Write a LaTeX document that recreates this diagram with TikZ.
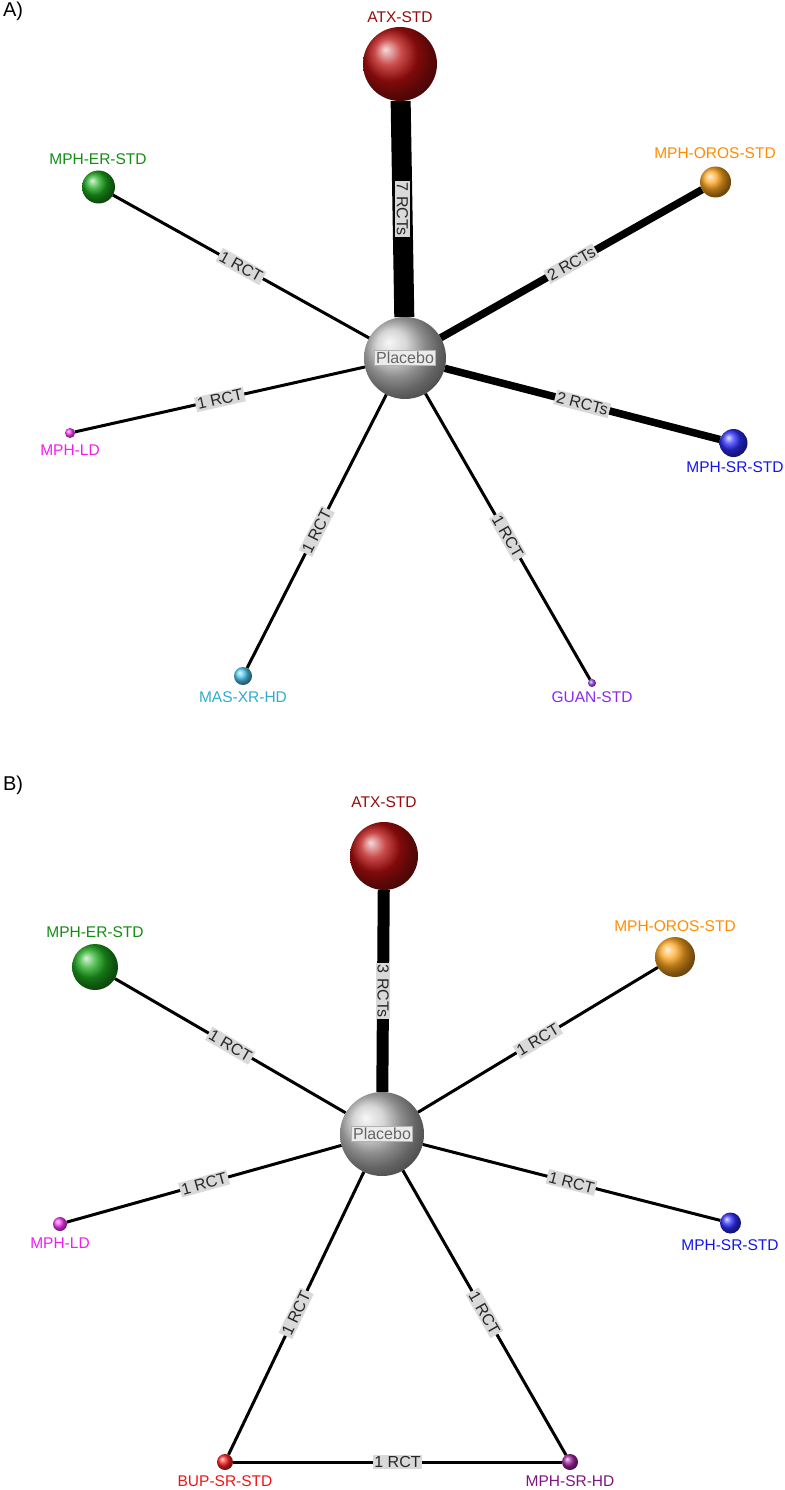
\documentclass[tikz,border=0pt]{standalone}
\usepackage{fontspec}
\setmainfont{Liberation Sans}
\usetikzlibrary{backgrounds}
\definecolor{catx}{RGB}{185,15,15}
\definecolor{tatx}{RGB}{150,10,10}
\definecolor{cer}{RGB}{30,170,30}
\definecolor{ter}{RGB}{20,140,20}
\definecolor{coros}{RGB}{255,165,30}
\definecolor{toros}{RGB}{255,140,0}
\definecolor{cld}{RGB}{255,60,255}
\definecolor{tld}{RGB}{240,30,240}
\definecolor{csr}{RGB}{45,45,255}
\definecolor{tsr}{RGB}{20,20,240}
\definecolor{cmas}{RGB}{80,200,240}
\definecolor{tmas}{RGB}{50,170,210}
\definecolor{cguan}{RGB}{165,70,255}
\definecolor{tguan}{RGB}{140,40,240}
\definecolor{cbup}{RGB}{255,35,35}
\definecolor{tbup}{RGB}{240,20,20}
\definecolor{chd}{RGB}{165,35,165}
\definecolor{thd}{RGB}{130,20,130}
\definecolor{cpl}{RGB}{200,200,200}
\tikzset{
  ball/.style={circle, inner sep=0pt, outer sep=0pt, shading=ball, ball color=#1},
  lab/.style={inner sep=0pt, font=\fontsize{15.5}{18}\selectfont},
  elab/.style={inner sep=1.8pt, fill=black!15, text=black!85, font=\fontsize{16}{18}\selectfont},
  plab/.style={inner sep=1.5pt, fill=black!8, draw=black!30, line width=0.5pt, text=black!60, font=\fontsize{16}{18}\selectfont},
  e1/.style={line width=3pt, black},
  e2/.style={line width=7.5pt, black},
  e3/.style={line width=12pt, black},
  e7/.style={line width=20pt, black},
  panel/.style={inner sep=0pt, font=\fontsize{20}{24}\selectfont}
}
\begin{document}
\begin{tikzpicture}[x=1pt,y=-1pt]
\useasboundingbox (0,0) rectangle (784,1490);
% ---------- Panel A ----------
\node[panel] (pA) at (13,11) {A)};
\node[ball=catx, minimum size=74pt] (atxA) at (400,64) {};
\node[ball=cpl, minimum size=82pt] (plA) at (405,358) {};
\node[ball=cer, minimum size=33pt] (erA) at (98.5,187) {};
\node[ball=coros, minimum size=31pt] (orosA) at (715.5,182) {};
\node[ball=cld, minimum size=10pt] (ldA) at (70,433) {};
\node[ball=csr, minimum size=28pt] (srA) at (733.5,443) {};
\node[ball=cmas, minimum size=18pt] (masA) at (243,676) {};
\node[ball=cguan, minimum size=8pt] (guanA) at (592,683) {};
\node[plab] (plAl) at (plA) {Placebo};
\node[lab, text=tatx] (atxAl) at (400,17) {ATX-STD};
\node[lab, text=ter] (erAl) at (98,159) {MPH-ER-STD};
\node[lab, text=toros] (orosAl) at (715,153) {MPH-OROS-STD};
\node[lab, text=tld] (ldAl) at (70,450) {MPH-LD};
\node[lab, text=tsr] (srAl) at (735,467) {MPH-SR-STD};
\node[lab, text=tmas] (masAl) at (243,697) {MAS-XR-HD};
\node[lab, text=tguan] (guanAl) at (592,697) {GUAN-STD};
\begin{scope}[on background layer]
\draw[e7] (atxA) -- node[elab, midway, rotate=-90] {7 RCTs} (plA);
\draw[e1] (erA) -- node[elab, midway, sloped] {1 RCT} (plA);
\draw[e2] (orosA) -- node[elab, midway, sloped] {2 RCTs} (plA);
\draw[e1] (ldA) -- node[elab, midway, sloped] {1 RCT} (plA);
\draw[e2] (plA) -- node[elab, midway, sloped] {2 RCTs} (srA);
\draw[e1] (masA) -- node[elab, midway, sloped] {1 RCT} (plA);
\draw[e1] (plA) -- node[elab, midway, sloped] {1 RCT} (guanA);
\end{scope}
% ---------- Panel B ----------
\node[panel] (pB) at (13,785) {B)};
\node[ball=catx, minimum size=68pt] (atxB) at (384,856) {};
\node[ball=cpl, minimum size=84pt] (plB) at (382,1134) {};
\node[ball=cer, minimum size=46pt] (erB) at (95,967) {};
\node[ball=coros, minimum size=40pt] (orosB) at (675,957) {};
\node[ball=cld, minimum size=14pt] (ldB) at (60,1224) {};
\node[ball=csr, minimum size=21pt] (srB) at (730.5,1223) {};
\node[ball=cbup, minimum size=16pt] (bupB) at (225,1462) {};
\node[ball=chd, minimum size=16pt] (hdB) at (570,1462) {};
\node[plab] (plBl) at (plB) {Placebo};
\node[lab, text=tatx] (atxBl) at (384,802) {ATX-STD};
\node[lab, text=ter] (erBl) at (95,932) {MPH-ER-STD};
\node[lab, text=toros] (orosBl) at (675,926) {MPH-OROS-STD};
\node[lab, text=tld] (ldBl) at (60,1243) {MPH-LD};
\node[lab, text=tsr] (srBl) at (730,1245) {MPH-SR-STD};
\node[lab, text=tbup] (bupBl) at (225,1481) {BUP-SR-STD};
\node[lab, text=thd] (hdBl) at (570,1481) {MPH-SR-HD};
\begin{scope}[on background layer]
\draw[e3] (atxB) -- node[elab, midway, rotate=-90] {3 RCTs} (plB);
\draw[e1] (erB) -- node[elab, midway, sloped] {1 RCT} (plB);
\draw[e1] (orosB) -- node[elab, midway, sloped] {1 RCT} (plB);
\draw[e1] (ldB) -- node[elab, midway, sloped] {1 RCT} (plB);
\draw[e1] (plB) -- node[elab, midway, sloped] {1 RCT} (srB);
\draw[e1] (bupB) -- node[elab, midway, sloped] {1 RCT} (plB);
\draw[e1] (plB) -- node[elab, midway, sloped] {1 RCT} (hdB);
\draw[e1] (bupB) -- node[elab, midway, sloped] {1 RCT} (hdB);
\end{scope}
\end{tikzpicture}
\end{document}
